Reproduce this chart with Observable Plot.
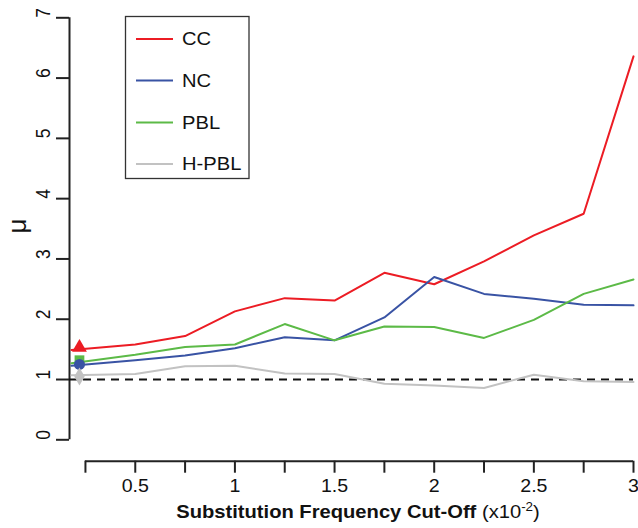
<!DOCTYPE html>
<html>
<head>
<meta charset="utf-8">
<script src="https://cdn.jsdelivr.net/npm/d3@7"></script>
<script src="https://cdn.jsdelivr.net/npm/@observablehq/plot@0.6"></script>
<style>
  html, body { margin: 0; padding: 0; background: white; }
</style>
</head>
<body>
<div id="chart"></div>
<script>
const seriesNames = ["CC", "NC", "PBL", "H-PBL"];
const seriesColors = ["#ec1c24", "#3953a4", "#5cba47", "#c2c2c2"];
const seriesSymbols = ["triangle", "circle", "square", "diamond"];

const xValues = [0.18, 0.5, 0.75, 1, 1.25, 1.5, 1.75, 2, 2.25, 2.5, 2.75, 3];
const ccValues   = [1.49, 1.58, 1.72, 2.13, 2.35, 2.31, 2.77, 2.58, 2.96, 3.39, 3.75, 6.36];
const ncValues   = [1.23, 1.32, 1.40, 1.52, 1.70, 1.65, 2.03, 2.70, 2.42, 2.34, 2.24, 2.23];
const pblValues  = [1.27, 1.41, 1.54, 1.58, 1.92, 1.65, 1.88, 1.87, 1.69, 1.99, 2.42, 2.66];
const hpblValues = [1.07, 1.09, 1.22, 1.23, 1.10, 1.09, 0.93, 0.90, 0.86, 1.08, 0.97, 0.96];

// baseline (uncut) markers
const markerX = 0.22;
const markerSeries = ["CC", "PBL", "NC", "H-PBL"];
const markerValues = [1.53, 1.32, 1.25, 1.05];

const yTicks = [0, 1, 2, 3, 4, 5, 6, 7];
const xTicks = [0.25, 0.5, 0.75, 1, 1.25, 1.5, 1.75, 2, 2.25, 2.5, 2.75, 3];
const xTickLabels = ["", "0.5", "", "1", "", "1.5", "", "2", "", "2.5", "", "3"];
const refValue = 1;

const xDomain = [0.17, 3];
const yDomain = [0, 7];

const valuesBySeries = [ccValues, ncValues, pblValues, hpblValues];
const lineData = seriesNames.flatMap((s, i) =>
  xValues.map((x, j) => ({series: s, x, y: valuesBySeries[i][j]})));
const markerData = markerSeries.map((s, i) => ({series: s, x: markerX, y: markerValues[i]}));

const FONT = "'Liberation Sans', Arial, Helvetica, sans-serif";
const axisOffset = 21.4;
const TICK_FONT = 17.5;
const STRETCH = 1.12;

const chart = Plot.plot({
  width: 638,
  height: 528,
  marginLeft: 69,
  marginRight: 5,
  marginTop: 17.3,
  marginBottom: 88.7,
  x: {domain: xDomain},
  y: {domain: yDomain},
  color: {domain: seriesNames, range: seriesColors},
  symbol: {domain: seriesNames, range: seriesSymbols},
  style: {fontFamily: FONT, fontSize: TICK_FONT + "px", background: "white", color: "#111", overflow: "visible"},
  marks: [
    // y axis
    Plot.ruleX([xDomain[0]], {y1: yDomain[0], y2: yDomain[1], stroke: "#222", strokeWidth: 2}),
    Plot.axisY({ticks: yTicks, tickSize: 13, tickFormat: () => "", stroke: "#222", strokeWidth: 2, label: null}),
    Plot.text(yTicks, {y: d => d, text: d => String(d), frameAnchor: "left", dx: -26, rotate: -90,
      fontSize: TICK_FONT, fill: "#111"}),
    // x axis (detached)
    Plot.ruleY([yDomain[0]], {x1: xTicks[0], x2: xTicks[xTicks.length - 1], dy: axisOffset, stroke: "#222", strokeWidth: 2}),
    Plot.axisX({ticks: xTicks, tickSize: 12, tickPadding: 6, dy: axisOffset,
      tickFormat: d => xTickLabels[xTicks.indexOf(d)], stroke: "#222", strokeWidth: 2,
      fontSize: TICK_FONT, fill: "#111", label: null}),
    // reference line
    Plot.ruleY([refValue], {x1: xDomain[0], x2: xDomain[1], stroke: "#111", strokeWidth: 1.8, strokeDasharray: "8,6"}),
    // series
    Plot.line(lineData, {x: "x", y: "y", z: "series", stroke: "series", strokeWidth: 2}),
    Plot.dot(markerData, {x: "x", y: "y", fill: "series", symbol: "series", r: 5.5, stroke: "none"})
  ]
});

document.getElementById("chart").appendChild(chart);

const svg = d3.select(chart);
// widen glyphs slightly, as in the reference figure
svg.selectAll("g[aria-label='x-axis tick label'] text").each(function () {
  const t = d3.select(this);
  t.attr("transform", (t.attr("transform") || "") + ` scale(${STRETCH},1)`);
});
svg.selectAll("g[aria-label='text'] text").each(function () {
  const t = d3.select(this);
  t.attr("transform", (t.attr("transform") || "") + ` scale(1,${STRETCH})`);
});

// y axis label
svg.append("text")
  .attr("transform", "translate(19,226) rotate(-90)")
  .attr("text-anchor", "middle")
  .attr("dominant-baseline", "middle")
  .attr("font-family", FONT)
  .attr("font-size", 26)
  .attr("fill", "#111")
  .text("μ");

// x axis title
const xt = svg.append("text")
  .attr("transform", "translate(358,518) scale(1.12,1)")
  .attr("text-anchor", "middle")
  .attr("font-family", FONT)
  .attr("font-size", 18)
  .attr("fill", "#111");
xt.append("tspan").attr("font-weight", "bold").text("Substitution Frequency Cut-Off");
xt.append("tspan").text(" (x10");
xt.append("tspan").attr("font-size", 12).attr("dy", -7).text("-2");
xt.append("tspan").attr("dy", 7).text(")");

// legend
const lg = svg.append("g");
lg.append("rect")
  .attr("x", 125.5).attr("y", 16.5).attr("width", 123.5).attr("height", 162)
  .attr("fill", "white").attr("stroke", "#333").attr("stroke-width", 1.3);
const rowY = [39, 80.5, 122.5, 164];
seriesNames.forEach((s, i) => {
  lg.append("line")
    .attr("x1", 136).attr("x2", 173).attr("y1", rowY[i]).attr("y2", rowY[i])
    .attr("stroke", seriesColors[i]).attr("stroke-width", 2);
  lg.append("text")
    .attr("transform", `translate(182,${rowY[i]}) scale(${STRETCH},1)`)
    .attr("text-anchor", "start")
    .attr("dominant-baseline", "central")
    .attr("font-family", FONT).attr("font-size", 18).attr("fill", "#111")
    .text(s);
});
</script>
</body>
</html>
